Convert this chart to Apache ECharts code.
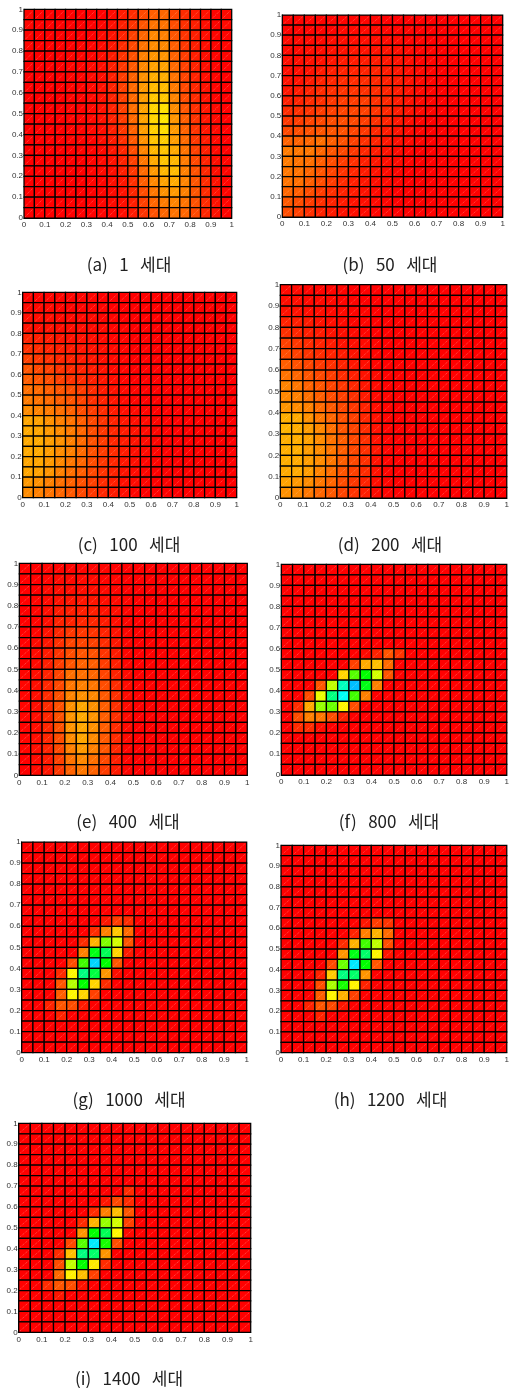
<!DOCTYPE html>
<html><head><meta charset="utf-8">
<style>html,body{margin:0;padding:0;background:#fff}#c{width:512px;height:1388px}</style>
<script src="https://cdn.jsdelivr.net/npm/echarts@6/dist/echarts.min.js"></script>
</head><body><div id="c"></div>
<script>
// Each panel: 20 rows top (y=1) to bottom (y=0); values are the colour-scale reading
// (0 red, 60 yellow, 120 green, 180 cyan, 240 blue). Trailing zeros of a row are left out.
const gen1 = [
[1,0,0,0,0,0,0,0,2,6,10,17,22,24,16,10,6,4,1,2],
[1,0,0,0,0,0,0,1,3,7,12,20,27,27,18,11,7,3,1,2],
[1,0,0,0,0,0,0,2,4,8,15,24,32,30,20,12,7,3,1,1],
[1,0,0,0,0,1,1,2,5,10,17,27,33,32,22,13,7,3,1,1],
[0,0,0,0,1,1,1,3,6,12,19,30,35,35,23,14,7,3,1,1],
[0,0,0,0,1,1,2,3,7,13,21,32,38,38,25,15,8,3,1],
[0,0,0,0,1,1,2,3,7,14,23,34,41,41,27,16,8,3,1],
[0,0,0,0,1,1,2,4,8,15,25,36,44,44,29,17,9,4,1],
[0,0,0,0,1,1,2,4,8,15,25,37,47,47,31,18,10,4,1],
[0,0,0,0,1,1,2,4,8,15,26,38,50,53,33,20,11,5,2],
[0,0,0,0,1,1,2,4,8,14,25,38,50,54,35,22,12,5,2],
[0,0,0,0,1,1,2,3,7,13,23,37,49,52,36,23,12,5,2],
[0,0,0,0,1,1,1,3,6,11,21,34,46,48,37,25,13,6,2],
[0,0,0,0,0,1,1,2,5,9,18,31,43,46,40,27,15,7,2],
[0,0,0,0,0,0,1,2,4,8,15,28,40,46,43,29,17,8,3,1],
[0,0,0,0,0,0,1,2,3,7,13,25,36,43,44,30,19,9,3,1],
[0,0,0,0,0,0,1,1,3,5,11,22,32,38,40,31,20,10,4,1],
[0,0,0,0,0,0,0,1,2,4,9,18,28,34,36,30,20,10,4,1],
[0,0,0,0,0,0,0,1,2,3,7,15,24,29,31,27,19,10,4,1],
[0,0,0,0,0,0,0,1,1,3,6,12,19,24,27,24,17,9,4,1]];
const gen50 = [
[1,1,1,1,1,1,1,1,1],
[1,1,1,1,1,2,2,2,2,1,1,1],
[2,2,2,2,3,3,3,3,3,2,2,1,1],
[2,2,3,3,4,4,5,4,4,4,3,2,1,1],
[3,3,4,4,5,6,6,6,6,5,4,3,1,1],
[3,3,4,6,7,8,8,8,8,6,5,3,2,1],
[4,4,6,8,9,10,10,10,9,7,6,4,2,1],
[5,6,8,10,11,12,12,11,10,8,6,4,2,1],
[7,8,10,11,13,14,14,14,11,9,6,4,2,1],
[10,11,12,14,15,16,16,15,12,9,6,4,2,1],
[13,14,16,17,18,18,17,14,11,8,5,3,1],
[17,18,19,20,20,19,16,13,9,6,4,2,1],
[23,23,24,26,22,19,15,11,8,5,3,2,1],
[29,28,28,24,20,17,13,9,6,4,2,1],
[29,27,26,22,18,14,11,7,5,3,2,1],
[28,27,24,20,16,12,9,6,4,2,1],
[27,26,22,18,14,10,7,5,3,2,1],
[24,22,18,14,11,8,6,4,2,1],
[21,18,14,11,8,6,4,3,2,1],
[18,15,11,8,6,4,3,2,1,1]];
const gen100 = [
[1,1,1,1,1,1,1],
[2,2,2,1,1,1,1,1],
[3,3,3,2,2,2,2,1,1],
[4,3,4,3,3,3,2,2,1,1],
[8,7,6,5,4,4,3,2,1,1],
[11,10,8,7,6,5,4,3,2,1],
[15,13,11,9,8,6,5,3,2,1],
[20,17,15,12,10,8,6,4,2,1],
[22,20,18,15,12,10,7,5,3,1],
[26,25,22,20,18,14,10,6,4,2,1],
[29,27,25,22,20,16,11,8,5,2,1],
[33,31,29,26,23,18,14,10,6,3,2,1],
[39,38,34,30,27,22,17,12,8,5,3,2,1],
[40,39,36,33,29,24,18,13,9,6,4,2,1],
[40,40,37,34,30,25,19,14,9,6,4,2,1],
[40,40,37,33,30,25,19,14,10,6,3,2,1],
[39,39,36,32,28,24,18,13,9,5,3,1,1],
[39,38,35,30,26,22,17,12,8,4,2,1],
[36,34,30,26,23,19,15,10,7,3,2,1],
[33,30,27,24,21,17,13,9,6,3,1]];
const gen200 = [
[2,2,1,1,1,1],
[3,3,2,2,2,1,1],
[4,4,3,3,2,2,1,1],
[8,7,6,4,3,2,1,1],
[11,9,7,6,4,3,2,1],
[15,13,10,8,6,4,3,2,1],
[18,15,12,10,8,6,4,2,1],
[22,19,16,13,11,8,5,3,1],
[27,24,20,17,14,10,7,4,2],
[31,28,23,20,16,13,9,5,2],
[32,30,26,22,18,15,11,6,2,1],
[35,33,30,25,21,17,13,8,3,1],
[41,40,34,28,24,19,15,9,4,1],
[42,41,37,32,26,20,16,10,4,1],
[41,41,38,33,27,22,17,11,4,1],
[41,41,37,33,28,22,17,11,5,1],
[41,40,37,33,28,22,17,11,4,1],
[40,40,37,31,26,20,15,10,4,1],
[38,36,33,28,24,18,13,8,3,1],
[34,32,28,24,21,16,12,7,2,1]];
const gen400 = [
[0,0,1,1,1,1,1,1],
[0,0,1,2,2,2,2,1,1],
[0,0,2,3,3,3,3,2,1],
[0,1,2,4,5,5,5,3,2,1],
[0,1,3,6,7,7,7,4,3,1],
[0,1,3,8,8,9,9,6,3,1],
[0,1,4,9,13,13,12,8,4,1],
[0,2,5,11,16,16,15,10,5,1],
[0,2,6,12,18,20,19,12,6,1],
[0,2,7,14,20,23,22,14,7,1],
[1,3,8,16,26,26,24,16,8,2],
[1,3,9,17,28,30,28,18,10,2],
[1,3,10,19,31,34,32,21,11,2],
[1,3,10,19,34,39,34,22,11,2],
[1,3,9,19,35,40,35,22,11,2],
[1,3,9,19,35,39,34,22,10,2],
[1,3,9,18,33,39,33,21,10,2],
[1,3,8,17,30,36,30,20,9,1],
[0,2,6,15,27,32,26,17,7,1],
[0,2,5,13,23,28,23,14,6,1]];
const gen800 = [
[],[],[],[],[],[],[],[],
[0,0,0,0,0,0,0,2,8,20,12],
[0,0,0,0,0,0,15,40,45,25],
[0,0,0,0,0,50,100,120,70,20],
[0,0,0,20,75,165,195,125,30],
[0,0,18,65,150,178,105,30],
[0,10,40,85,95,58,18],
[0,18,30,28,18,8],
[0,10,10,3],
[],[],[],[]];
const gen1000 = [
[],[],[],[],[],[],[],
[0,0,0,0,0,0,0,5,14,10],
[0,0,0,0,0,0,10,30,47,25],
[0,0,0,0,0,10,42,90,70,20],
[0,0,0,0,0,30,125,140,50,6],
[0,0,0,0,18,105,190,120,20],
[0,0,0,10,58,150,135,35,3],
[0,0,0,20,78,120,50,10],
[0,0,0,22,58,50,15],
[0,0,8,20,18,6],
[0,0,0,8],
[],[],[]];
const gen1200 = [
[],[],[],[],[],[],[],
[0,0,0,0,0,0,0,5,14,12],
[0,0,0,0,0,0,8,30,42,25],
[0,0,0,0,0,10,42,105,75,18],
[0,0,0,0,0,35,125,145,58,5],
[0,0,0,0,17,95,185,120,20],
[0,0,0,8,48,150,145,35],
[0,0,0,18,80,115,58,8],
[0,0,0,22,58,42,15],
[0,0,8,20,17,5],
[0,0,0,8],
[],[],[]];
const gen1400 = [
[],[],[],[],[],[],
[0,0,0,0,0,0,0,0,0,10],
[0,0,0,0,0,0,0,5,17,10],
[0,0,0,0,0,0,10,30,45,20],
[0,0,0,0,0,10,42,85,70,15],
[0,0,0,0,0,35,120,140,58,2],
[0,0,0,0,17,100,185,115,18],
[0,0,0,10,45,150,145,35],
[0,0,0,18,75,120,55,10],
[0,0,0,25,57,45,15],
[0,0,10,20,18,4],
[0,0,0,5],
[],[],[]];

const panels = [gen1,gen50,gen100,gen200,gen400,gen800,gen1000,gen1200,gen1400];
const captions = ['(a)   1   세대','(b)   50   세대','(c)   100   세대','(d)   200   세대','(e)   400   세대','(f)   800   세대','(g)   1000   세대','(h)   1200   세대','(i)   1400   세대'];
// plot boxes [x0, x1, yTop, yBottom] and caption centres [x, y]
const boxes = [[24,231.7,9.3,218],[282.3,502.7,15,217],[22.7,236.7,292.3,497.7],[280.3,508.3,284.7,498],[19.3,247.3,563.3,775.3],[281.3,508.3,564.3,775],[21.7,246.7,842,1052.7],[281,508.3,845.3,1052.7],[18.7,250.7,1123.3,1332.3]];
const capPos = [[129,265],[390,265],[129,545],[390,545],[128,822],[389,822],[129,1100],[390.5,1100],[129,1379]];
const scaleColors = ['#ff0000','#ffff00','#00ff00','#00ffff','#0000ff'];
const N = 20, cell = 1/N;

function renderCell(params, api){
  const x = api.value(0), y = api.value(1);
  const a = api.coord([x,y]), b = api.coord([x+cell,y+cell]);
  return {type:'group', children:[
    {type:'rect', shape:{x:a[0],y:b[1],width:b[0]-a[0],height:a[1]-b[1]},
     style:{fill:api.visual('color'),stroke:'#000',lineWidth:1.25}},
    {type:'line', shape:{x1:a[0]+1.5,y1:a[1]-1.5,x2:b[0]-1.5,y2:b[1]+1.5},
     style:{stroke:'rgba(255,235,225,0.5)',lineWidth:0.7,lineDash:[1,1]}}
  ]};
}
const axisBase = {type:'value',min:0,max:1,interval:0.1,
  splitLine:{show:false},axisTick:{show:false},
  axisLine:{show:true,onZero:false,lineStyle:{color:'#000',width:1}},
  axisLabel:{fontFamily:'"Liberation Sans"',fontSize:8,color:'#333',hideOverlap:false,showMinLabel:true,showMaxLabel:true}};
const grid=[],xAxis=[],yAxis=[],series=[],title=[];
panels.forEach((rows,i)=>{
  const [x0,x1,t,bt]=boxes[i];
  grid.push({left:x0,top:t,width:x1-x0,height:bt-t});
  xAxis.push({...axisBase,gridIndex:i,axisLabel:{...axisBase.axisLabel,margin:3}});
  yAxis.push({...axisBase,gridIndex:i,axisLabel:{...axisBase.axisLabel,margin:1}});
  const data=[];
  rows.forEach((row,r)=>{for(let c=0;c<N;c++)data.push([c/N,(N-1-r)/N,row[c]||0]);});
  series.push({type:'custom',xAxisIndex:i,yAxisIndex:i,coordinateSystem:'cartesian2d',renderItem:renderCell,
    data,encode:{x:0,y:1},progressive:0,animation:false,silent:true,clip:false,z:1});
  title.push({text:captions[i],left:capPos[i][0],top:capPos[i][1]-10,textAlign:'center',padding:0,
    textStyle:{fontFamily:'"Noto Sans CJK KR"',fontSize:17,fontWeight:'normal',color:'#222',lineHeight:20}});
});
const chart=echarts.init(document.getElementById('c'),null,{renderer:'canvas'});
chart.setOption({animation:false,backgroundColor:'#fff',title,grid,xAxis,yAxis,series,
  visualMap:{show:false,type:'continuous',min:0,max:240,dimension:2,seriesIndex:panels.map((_,i)=>i),inRange:{color:scaleColors}}});
</script></body></html>
